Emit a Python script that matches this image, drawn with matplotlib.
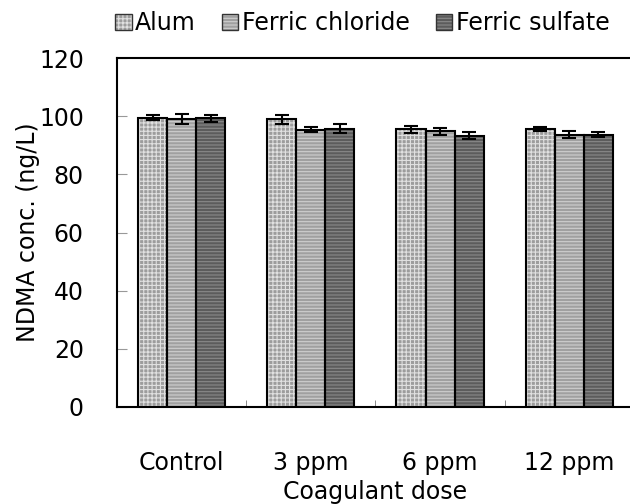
import matplotlib.pyplot as plt
import numpy as np

plt.rcParams['font.family'] = ['DejaVu Sans']
plt.rcParams['hatch.linewidth'] = 0.8

doses = ['Control', '3 ppm', '6 ppm', '12 ppm']
series = ['Alum', 'Ferric chloride', 'Ferric sulfate']
alum = [99.5, 99.0, 95.5, 95.7]
ferric_chloride = [99.0, 95.4, 94.9, 93.6]
ferric_sulfate = [99.3, 95.7, 93.4, 93.7]
alum_err = [0.9, 1.5, 1.2, 0.8]
ferric_chloride_err = [1.7, 0.8, 1.2, 1.2]
ferric_sulfate_err = [1.3, 1.5, 1.1, 0.8]

values = [alum, ferric_chloride, ferric_sulfate]
errors = [alum_err, ferric_chloride_err, ferric_sulfate_err]
fills = ['#9c9c9c', '#a0a0a0', '#5c5c5c']
hatch_colors = ['#e0e0e0', '#cfcfcf', '#8a8a8a']
hatches = ['++++', '-----', '-----']

fig = plt.figure(figsize=(6.3, 5.04), dpi=100)
ax = fig.add_axes([0.186, 0.1925, 0.82, 0.692])

x = np.arange(len(doses))
w = 0.225
handles = []
for i in range(3):
    pos = x + (i - 1) * w
    ax.bar(pos, values[i], w, color=fills[i], edgecolor=hatch_colors[i], hatch=hatches[i],
           linewidth=0, zorder=2)
    ax.bar(pos, values[i], w, color='none', edgecolor='black', linewidth=1.5, zorder=3)
    ax.errorbar(pos, values[i], yerr=errors[i], fmt='none', ecolor='black',
                elinewidth=1.5, capsize=5, capthick=1.5, zorder=4)
    h1 = plt.Rectangle((0, 0), 1, 1, facecolor=fills[i], edgecolor=hatch_colors[i],
                       hatch=hatches[i], linewidth=0)
    h2 = plt.Rectangle((0, 0), 1, 1, facecolor='none', edgecolor='#333333', linewidth=1)
    handles.append((h1, h2))

ax.set_ylim(0, 120)
ax.set_xlim(-0.5, 3.5)
ax.set_yticks(range(0, 121, 20))
ax.set_xticks(x)
ax.set_xticklabels(doses)
ax.set_xticks(np.arange(0.5, 4, 1), minor=True)
ax.tick_params(axis='x', which='major', length=0, pad=32, labelsize=17)
ax.tick_params(axis='x', which='minor', direction='in', length=5, color='#777777')
ax.tick_params(axis='y', direction='in', length=7, color='#999999', pad=24, labelsize=17)
ax.spines['right'].set_visible(False)
for s in ['left', 'bottom', 'top']:
    ax.spines[s].set_linewidth(1.5)

ax.set_xlabel('Coagulant dose', fontsize=17, labelpad=3)
ax.set_ylabel('NDMA conc. (ng/L)', fontsize=17, labelpad=-1)

fig.legend(handles, series, loc='upper center', bbox_to_anchor=(0.575, 1.02), ncol=3,
           frameon=False, fontsize=17, handlelength=0.7, handleheight=0.7,
           handletextpad=0.15, columnspacing=1.1)

fig.savefig('out.png', dpi=100)
